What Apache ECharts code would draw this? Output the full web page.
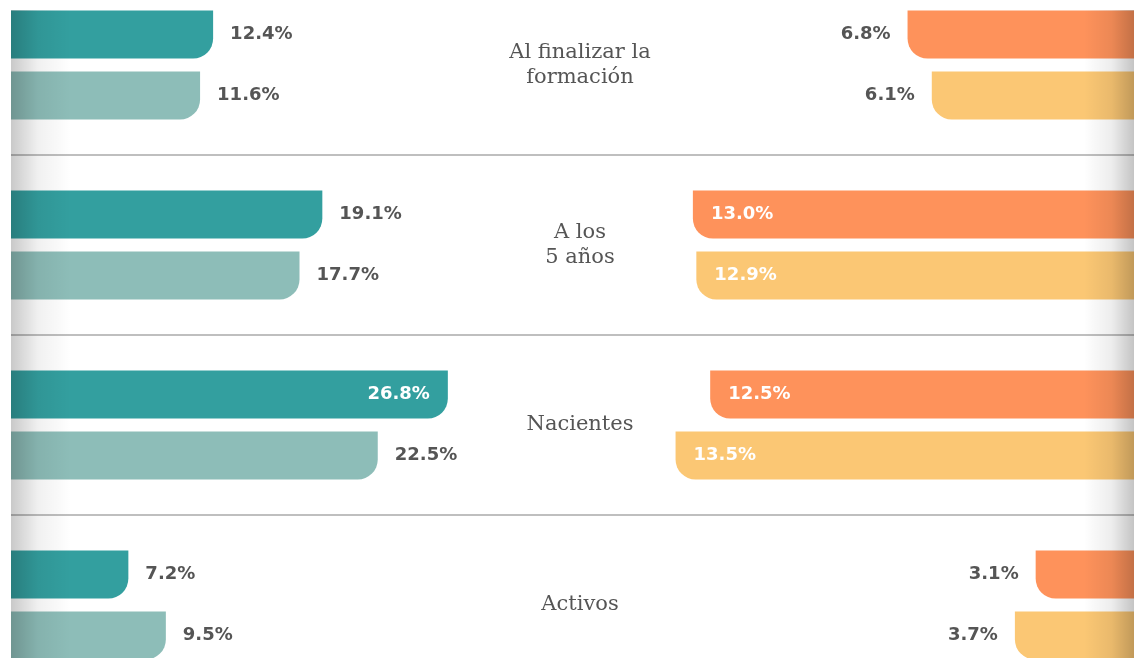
<!DOCTYPE html>
<html>
<head>
<meta charset="utf-8">
<script src="https://cdn.jsdelivr.net/npm/echarts@6/dist/echarts.min.js"></script>
<style>
  html, body { margin: 0; padding: 0; background: #ffffff; }
  #chart { width: 1134px; height: 658px; }
</style>
</head>
<body>
<div id="chart"></div>
<script>
// Stage labels (middle column) and percentages per group
const categories = ['Al finalizar la\nformación', 'A los\n5 años', 'Nacientes', 'Activos'];
const leftDark = [12.4, 19.1, 26.8, 7.2];
const leftLight = [11.6, 17.7, 22.5, 9.5];
const rightDark = [6.8, 13.0, 12.5, 3.1];
const rightLight = [6.1, 12.9, 13.5, 3.7];

const COLORS = {
  leftDark: '#339f9f',
  leftLight: '#8dbdb8',
  rightDark: '#fe925b',
  rightLight: '#fbc774'
};

const valueFont = {
  fontFamily: 'DejaVu Sans',
  fontWeight: 'bold',
  fontSize: 18,
  color: '#555555'
};

const fmt = p => p.value.toFixed(1) + '%';

// Long bars carry their label inside in white
function withLabels(values, insideFrom, insidePos) {
  return values.map(v => v >= insideFrom
    ? { value: v, label: { position: insidePos, color: '#ffffff', distance: 18 } }
    : { value: v });
}

function barSeries(values, color, axis, outsidePos, insidePos, insideFrom, radius) {
  return {
    type: 'bar',
    xAxisIndex: axis,
    yAxisIndex: axis,
    barWidth: 48,
    barGap: '27%',
    data: withLabels(values, insideFrom, insidePos),
    itemStyle: { color: color, borderRadius: radius },
    label: Object.assign({ show: true, position: outsidePos, distance: 17, formatter: fmt }, valueFont),
    emphasis: { disabled: true },
    silent: true,
    animation: false
  };
}

const chart = echarts.init(document.getElementById('chart'), null, { renderer: 'canvas' });

// Each stage gets a 180px band; the outer bands run past the canvas edges
const bandTop = -25, bandHeight = 720;
const gridBase = { top: bandTop, height: bandHeight, containLabel: false, outerBoundsMode: 'none' };

chart.setOption({
  backgroundColor: '#ffffff',
  animation: false,
  grid: [
    Object.assign({ left: 11, width: 489 }, gridBase),
    Object.assign({ left: 589, width: 554 }, gridBase),
    Object.assign({ left: 11, width: 1123 }, gridBase)
  ],
  xAxis: [
    { gridIndex: 0, type: 'value', min: 0, max: 30, show: false },
    { gridIndex: 1, type: 'value', min: 0, max: 16, inverse: true, show: false },
    { gridIndex: 2, type: 'value', min: 0, max: 1, show: false }
  ],
  yAxis: [
    { gridIndex: 0, type: 'category', data: categories, inverse: true, show: false },
    { gridIndex: 1, type: 'category', data: categories, inverse: true, show: false },
    {
      gridIndex: 2, type: 'category', data: categories, inverse: true,
      axisLine: { show: false },
      axisTick: { show: false },
      splitLine: { show: true, lineStyle: { color: '#aaaaaa', width: 1.5 } },
      axisLabel: {
        margin: -569,
        align: 'center',
        verticalAlign: 'middle',
        fontFamily: 'DejaVu Serif',
        fontSize: 21,
        lineHeight: 25,
        color: '#555555'
      }
    }
  ],
  series: [
    barSeries(leftDark, COLORS.leftDark, 0, 'right', 'insideRight', 25, [0, 0, 20, 0]),
    barSeries(leftLight, COLORS.leftLight, 0, 'right', 'insideRight', 25, [0, 0, 20, 0]),
    barSeries(rightDark, COLORS.rightDark, 1, 'left', 'insideLeft', 10, [0, 0, 0, 20]),
    barSeries(rightLight, COLORS.rightLight, 1, 'left', 'insideLeft', 10, [0, 0, 0, 20])
  ],
  graphic: [
    {
      type: 'rect', z: 100, silent: true,
      shape: { x: 11, y: 10, width: 60, height: 660 },
      style: {
        fill: new echarts.graphic.LinearGradient(0, 0, 1, 0, [
          { offset: 0, color: 'rgba(0,0,0,0.21)' },
          { offset: 0.45, color: 'rgba(0,0,0,0.06)' },
          { offset: 1, color: 'rgba(0,0,0,0)' }
        ])
      }
    },
    {
      type: 'rect', z: 100, silent: true,
      shape: { x: 1084, y: 10, width: 50, height: 660 },
      style: {
        fill: new echarts.graphic.LinearGradient(0, 0, 1, 0, [
          { offset: 0, color: 'rgba(0,0,0,0)' },
          { offset: 0.55, color: 'rgba(0,0,0,0.07)' },
          { offset: 1, color: 'rgba(0,0,0,0.23)' }
        ])
      }
    }
  ]
});
</script>
</body>
</html>
